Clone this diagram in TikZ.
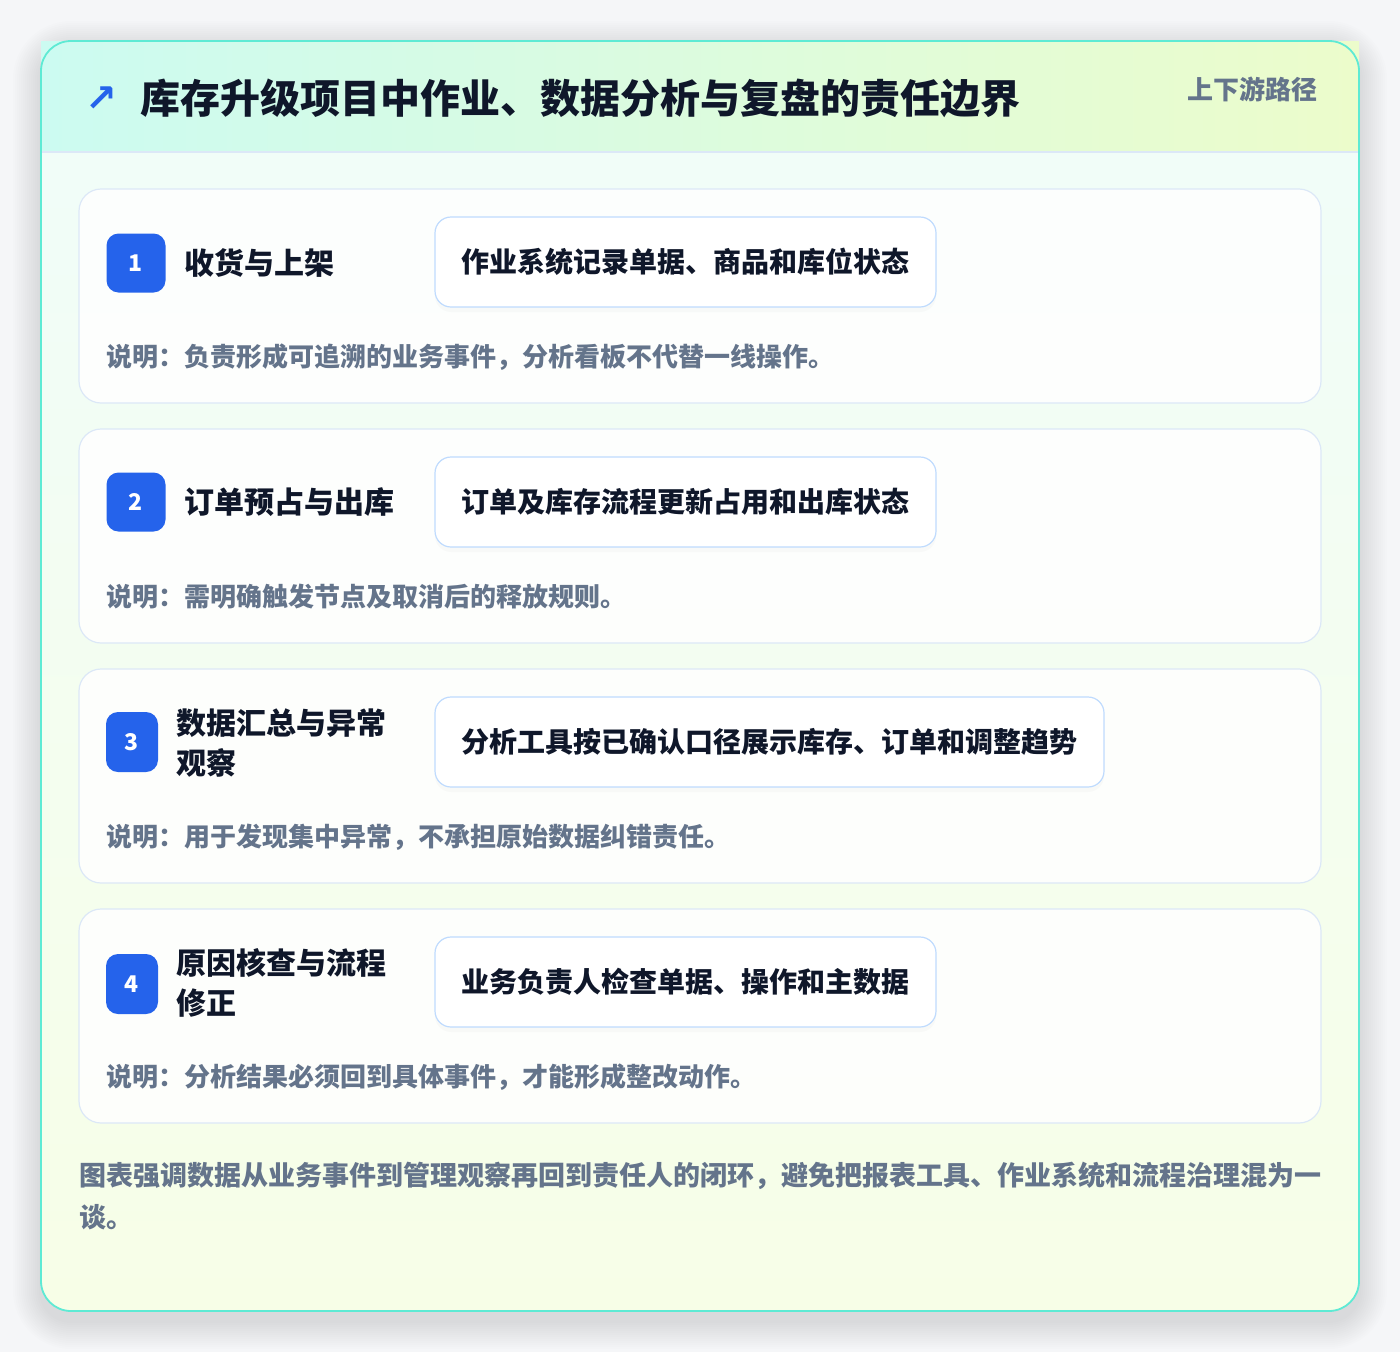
\documentclass[tikz,border=0pt]{standalone}
\usepackage{fontspec}
\setmainfont{Noto Sans CJK SC}
\newfontfamily\symfont{DejaVu Sans}
\usepackage{xcolor}
\usetikzlibrary{positioning,shadows}

\definecolor{pagebg}{HTML}{F5F6F8}
\definecolor{tealline}{HTML}{5EEAD4}
\definecolor{mintbg}{HTML}{F0FDFA}
\definecolor{limebg}{HTML}{F7FEE7}
\definecolor{headl}{HTML}{CCFBF1}
\definecolor{headr}{HTML}{ECFCCB}
\definecolor{cardline}{HTML}{DCE8F7}
\definecolor{boxline}{HTML}{BFDBFE}
\definecolor{badgeblue}{HTML}{2563EB}
\definecolor{inktext}{HTML}{0F172A}
\definecolor{graytext}{HTML}{64748B}

\begin{document}
\begin{tikzpicture}[x=1pt,y=-1pt,
    card/.style={draw=cardline, line width=1.2pt, fill=white, fill opacity=0.85, rounded corners=22},
    badge/.style={fill=badgeblue, rounded corners=12, text=white, font=\fontsize{23}{24}\selectfont\bfseries, inner sep=0pt},
    steptitle/.style={anchor=west, text=inktext, align=left, inner sep=0pt, font=\fontsize{30}{40}\selectfont\bfseries},
    actbox/.style={draw=boxline, line width=1.2pt, fill=white, rounded corners=16, minimum height=90, text=inktext,
        font=\fontsize{28}{32}\selectfont\bfseries, drop shadow={opacity=0.035, shadow xshift=0pt, shadow yshift=-5pt}},
    note/.style={anchor=west, text=graytext, inner sep=0pt, font=\fontsize{26}{30}\selectfont\bfseries}]

    \useasboundingbox (0,0) rectangle (1400,1352);
    \fill[pagebg] (0,0) rectangle (1400,1352);

    % soft shadow of the outer card
    \foreach \i in {1,...,14}
        \fill[black, opacity=0.008, rounded corners=30+2*\i] (41-2*\i,49-2*\i) rectangle (1359+2*\i,1321+2*\i);

    % outer card with header
    \shade[rounded corners=30, top color=mintbg, bottom color=limebg] (41,41) rectangle (1359,1311);
    \shade[left color=headl, right color=headr] (41,41) rectangle (1359,152);
    \draw[cardline, line width=1.2pt] (41,152) -- (1359,152);
    \draw[tealline, line width=1.8pt, rounded corners=30] (41,41) rectangle (1359,1311);

    \node[text=badgeblue, font=\symfont\bfseries\fontsize{38}{40}\selectfont, inner sep=0pt] (icon) at (101,99) {↗};
    \node[anchor=west, text=inktext, inner sep=0pt, font=\fontsize{40}{44}\selectfont\bfseries] (title) at (140,98)
        {库存升级项目中作业、数据分析与复盘的责任边界};
    \node[anchor=east, text=graytext, inner sep=0pt, font=\fontsize{26}{28}\selectfont\bfseries] (route) at (1318,89) {上下游路径};

    % step cards
    \foreach \t in {189,429,669,909}
        \draw[card] (79,\t) rectangle (1321,\t+214);

    % step 1
    \node[badge, minimum width=59, minimum height=59] (b1) at (136,263) {1};
    \node[steptitle] (t1) at (184,263) {收货与上架};
    \node[actbox, minimum width=501] (a1) at (685.5,262) {作业系统记录单据、商品和库位状态};
    \node[note] (n1) at (106,357) {说明：负责形成可追溯的业务事件，分析看板不代替一线操作。};

    % step 2
    \node[badge, minimum width=59, minimum height=59] (b2) at (136,502) {2};
    \node[steptitle] (t2) at (184,502) {订单预占与出库};
    \node[actbox, minimum width=501] (a2) at (685.5,502) {订单及库存流程更新占用和出库状态};
    \node[note] (n2) at (106,597) {说明：需明确触发节点及取消后的释放规则。};

    % step 3
    \node[badge, minimum width=52, minimum height=60] (b3) at (132,742) {3};
    \node[steptitle] (t3) at (176,743) {数据汇总与异常\\观察};
    \node[actbox, minimum width=669] (a3) at (769.5,742) {分析工具按已确认口径展示库存、订单和调整趋势};
    \node[note] (n3) at (106,837) {说明：用于发现集中异常，不承担原始数据纠错责任。};

    % step 4
    \node[badge, minimum width=52, minimum height=60] (b4) at (132,984) {4};
    \node[steptitle] (t4) at (176,983) {原因核查与流程\\修正};
    \node[actbox, minimum width=501] (a4) at (685.5,982) {业务负责人检查单据、操作和主数据};
    \node[note] (n4) at (106,1077) {说明：分析结果必须回到具体事件，才能形成整改动作。};

    % footer
    \node[anchor=north west, text=graytext, align=left, inner sep=0pt, font=\fontsize{27}{42}\selectfont\bfseries] (foot) at (79,1162)
        {图表强调数据从业务事件到管理观察再回到责任人的闭环，避免把报表工具、作业系统和流程治理混为一\\谈。};
\end{tikzpicture}
\end{document}
